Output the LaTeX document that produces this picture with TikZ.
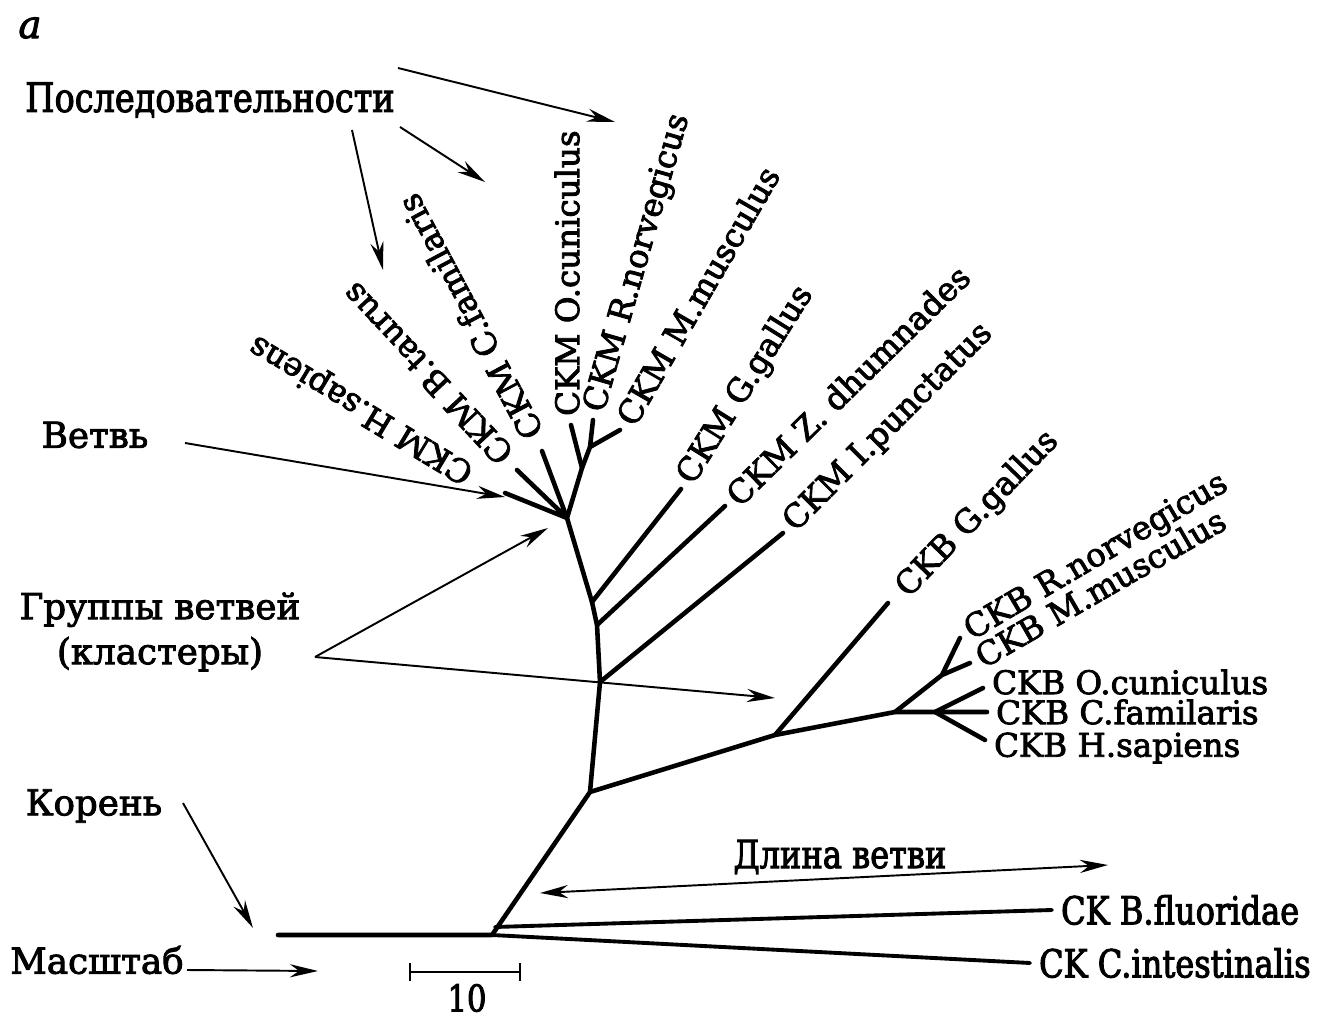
\documentclass[tikz,border=0pt]{standalone}
\usepackage{fontspec}
\setmainfont[FakeBold=2.5]{DejaVu Serif}
\newfontfamily\narrowfont[FakeStretch=0.83,FakeBold=2.5]{DejaVu Serif}
\usetikzlibrary{arrows.meta}

\begin{document}
\begin{tikzpicture}[x=0.02cm,y=-0.02cm,
  branch/.style={line width=2.6pt,line cap=round,line join=round},
  pointer/.style={line width=1.1pt,-{Stealth[length=16pt,width=7.5pt]}},
  leaf/.style={anchor=west,inner sep=5pt,font=\fontsize{18.5}{18.5}\selectfont},
  callout/.style={inner sep=0pt,align=center,font=\fontsize{20.3}{25.6}\selectfont},
  thin callout/.style={callout,font=\fontsize{23}{24}\selectfont\narrowfont}]
\useasboundingbox (0,0) rectangle (1340,1021);

% tree nodes
\coordinate (root) at (492,935);
\coordinate (scl) at (278,935);
\coordinate (n1) at (590,792);
\coordinate (n2) at (600,682);
\coordinate (n3) at (597,625);
\coordinate (n4) at (592,602);
\coordinate (n5) at (567,518);
\coordinate (n6) at (582,468);
\coordinate (n7) at (590,447);
\coordinate (k1) at (775,735);
\coordinate (k2) at (895,712);
\coordinate (k3) at (942,675);
\coordinate (k4) at (935,712);
\coordinate (rf) at (495,927);

% leaf tips
\coordinate (mHs) at (505,493);
\coordinate (mBt) at (517,470);
\coordinate (mCf) at (542,451);
\coordinate (mOc) at (571,425);
\coordinate (mRn) at (593,420);
\coordinate (mMm) at (620,430);
\coordinate (mGg) at (681,489);
\coordinate (mZd) at (725,506);
\coordinate (mIp) at (783,533);
\coordinate (bGg) at (888,603);
\coordinate (bRn) at (960,638);
\coordinate (bMm) at (970,663);
\coordinate (bOc) at (983,688);
\coordinate (bCf) at (987,712);
\coordinate (bHs) at (985,740);
\coordinate (fl) at (1052,910);
\coordinate (ci) at (1030,963);

% branches
\draw[branch] (scl) -- (root) -- (n1) -- (n2) -- (n3) -- (n4) -- (n5) -- (n6) -- (n7) -- (mRn);
\draw[branch] (n5) -- (mHs) (n5) -- (mBt) (n5) -- (mCf);
\draw[branch] (n6) -- (mOc) (n7) -- (mMm);
\draw[branch] (n4) -- (mGg) (n3) -- (mZd) (n2) -- (mIp);
\draw[branch] (n1) -- (k1) -- (k2) -- (k4) -- (bCf);
\draw[branch] (k1) -- (bGg) (k2) -- (k3) -- (bRn) (k3) -- (bMm);
\draw[branch] (k4) -- (bOc) (k4) -- (bHs);
\draw[branch,line width=2.2pt] (rf) -- (fl) (root) -- (ci);

% leaf labels
\node[leaf,shift={(-26,-14)},rotate=149] (lmHs) at (mHs) {CKM H.sapiens};
\node[leaf,shift={(-4,-4)},rotate=133] (lmBt) at (mBt) {CKM B.taurus};
\node[leaf,shift={(-4,-6)},rotate=118] (lmCf) at (mCf) {CKM C.familaris};
\node[leaf,shift={(-4,0)},rotate=90] (lmOc) at (mOc) {CKM O.cuniculus};
\node[leaf,rotate=74] (lmRn) at (mRn) {CKM R.norvegicus};
\node[leaf,rotate=60] (lmMm) at (mMm) {CKM M.musculus};
\node[leaf,rotate=58] (lmGg) at (mGg) {CKM G.gallus};
\node[leaf,rotate=44.5] (lmZd) at (mZd) {CKM Z. dhumnades};
\node[leaf,rotate=45] (lmIp) at (mIp) {CKM I.punctatus};
\node[leaf,shift={(8,-4)},rotate=46] (lbGg) at (bGg) {CKB G.gallus};
\node[leaf,rotate=30.5] (lbRn) at (bRn) {CKB R.norvegicus};
\node[leaf,rotate=30] (lbMm) at (bMm) {CKB M.musculus};
\node[leaf,shift={(0,-6)}] (lbOc) at (bOc) {CKB O.cuniculus};
\node[leaf] (lbCf) at (bCf) {CKB C.familaris};
\node[leaf,shift={(0,8)}] (lbHs) at (bHs) {CKB H.sapiens};
\node[leaf,font=\fontsize{22}{22}\selectfont\narrowfont] (lfl) at (fl) {CK B.fluoridae};
\node[leaf,font=\fontsize{22}{22}\selectfont\narrowfont] (lci) at (ci) {CK C.intestinalis};

% callouts
\node[callout,font=\fontsize{22}{22}\selectfont\itshape] (fig) at (30,28) {a};
\node[thin callout] (seq) at (210,100) {Последовательности};
\node[callout] (vetv) at (95,435) {Ветвь};
\node[callout] (grp) at (160,632) {Группы ветвей\\(кластеры)};
\node[callout] (kor) at (94,806) {Корень};
\node[callout] (msh) at (97,960) {Масштаб};
\node[thin callout,font=\fontsize{22}{22}\selectfont\narrowfont] (dl) at (840,857) {Длина ветви};
\node[thin callout,font=\fontsize{21}{21}\selectfont\narrowfont] (ten) at (467,998) {10};

\coordinate (s1) at (398,68);
\coordinate (s2) at (400,127);
\coordinate (s3) at (352,130);
\coordinate (g0) at (315,657);
\draw[pointer] (s1) -- (615,122);
\draw[pointer] (s2) -- (485,182);
\draw[pointer] (s3) -- (383,270);
\draw[pointer] (185,443) -- (505,497);
\draw[pointer] (g0) -- (548,528);
\draw[pointer] (g0) -- (775,698);
\draw[pointer] (183,803) -- (253,928);
\draw[pointer] (187,970) -- (318,971);
\draw[pointer,{Stealth[length=16pt,width=7.5pt]}-{Stealth[length=16pt,width=7.5pt]}] (540,893) -- (1108,865);

% scale bar
\draw[line width=1.5pt] (410,972) -- (520,972);
\draw[line width=1.5pt] (410,963) -- (410,981) (520,963) -- (520,981);
\end{tikzpicture}
\end{document}
